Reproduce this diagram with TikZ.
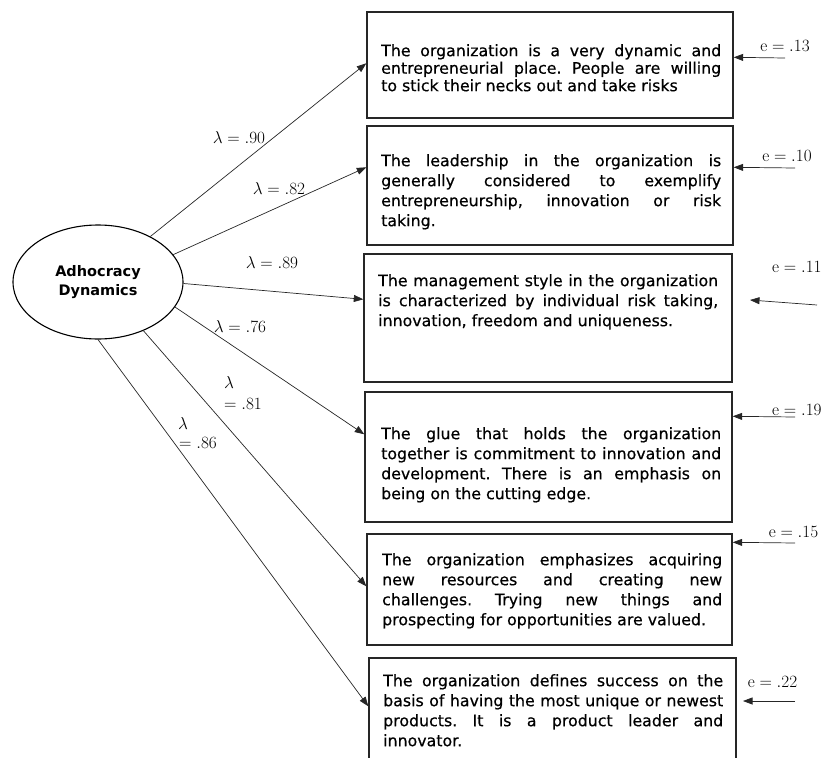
\RequirePackage{fix-cm}
\documentclass[tikz,border=0pt]{standalone}
\usepackage[no-math]{fontspec}
\setmainfont{DejaVu Sans}
\newfontfamily\boxfont{DejaVu Sans}[FakeBold=0.5]
\usetikzlibrary{arrows.meta,shapes.geometric,calc}
\begin{document}
\frenchspacing
\begin{tikzpicture}[x=1pt,y=-1pt,
  box/.style={draw=black!85,line width=1.4pt,rectangle,inner sep=0pt},
  btext/.style={anchor=north west,inner sep=0pt,text width=340pt,align=justify,font=\boxfont\fontsize{15.8}{20}\selectfont},
  load/.style={draw=black!85,line width=0.7pt,-{Triangle[length=9.5pt,width=7pt]}},
  lam/.style={inner sep=0pt,font=\fontsize{17.2}{20}\selectfont},
]
\clip (0,0) rectangle (828,758);
\node[ellipse,draw,line width=1.1pt,minimum width=170pt,minimum height=114pt,inner sep=0pt,
      font=\bfseries\fontsize{14.5}{19}\selectfont,align=center] (ell) at (98,282) {Adhocracy\\Dynamics};

\node[box,minimum width=366pt,minimum height=106pt] (b1) at (550,65) {};
\node[box,minimum width=366pt,minimum height=119pt] (b2) at (550,185.5) {};
\node[box,minimum width=368pt,minimum height=128pt] (b3) at (548,318) {};
\node[box,minimum width=367pt,minimum height=130pt] (b4) at (548.5,457) {};
\node[box,minimum width=365pt,minimum height=111pt] (b5) at (549.5,589.5) {};
\node[box,minimum width=367pt,minimum height=122pt] (b6) at (552.5,719) {};

\node[btext,font=\boxfont\fontsize{15.8}{17.5}\selectfont] (t1) at (381,44) {The organization is a very dynamic and\linebreak entrepreneurial place. People are willing\linebreak to stick their necks out and take risks};
\node[btext] (t2) at (381,154) {The leadership in the organization is\linebreak generally considered to exemplify\linebreak entrepreneurship, innovation or risk\linebreak taking.};
\node[btext] (t3) at (378,274) {The management style in the organization\linebreak is characterized by individual risk taking,\linebreak innovation, freedom and uniqueness.};
\node[btext] (t4) at (381,427) {The glue that holds the organization\linebreak together is commitment to innovation and\linebreak development. There is an emphasis on\linebreak being on the cutting edge.};
\node[btext] (t5) at (382,553) {The organization emphasizes acquiring\linebreak new resources and creating new\linebreak challenges. Trying new things and\linebreak prospecting for opportunities are valued.};
\node[btext] (t6) at (383,674) {The organization defines success on the\linebreak basis of having the most unique or newest\linebreak products. It is a product leader and\linebreak innovator.};

\draw[load] (ell.41) -- ($(b1.north west)+(0,52)$);
\draw[load] (ell.20) -- ($(b2.north west)+(0,42)$);
\draw[load] (ell.-1) -- ($(b3.north west)+(0,46)$);
\draw[load] (ell.-18) -- ($(b4.north west)+(0,43)$);
\draw[load] (ell.-47) -- ($(b5.north west)+(0,53)$);
\draw[load] (ell.-90) -- ($(b6.north west)+(0,49)$);

\node[lam] (l90) at (239,138) {$\lambda = .90$};
\node[lam] (l82) at (279,189) {$\lambda = .82$};
\node[lam] (l89) at (272,263) {$\lambda = .89$};
\node[lam] (l76) at (240,327) {$\lambda = .76$};
\node[lam,anchor=west] (l81a) at (224,383) {$\lambda$};
\node[lam,anchor=west] (l81b) at (224,404) {$={}.81$};
\node[lam,anchor=west] (l86a) at (178,424) {$\lambda$};
\node[lam,anchor=west] (l86b) at (179,443) {$={}.86$};

\node[lam] (e13) at (785,46) {$\mathrm{e} = .13$};
\coordinate (c13) at (785,58);
\draw[load] (c13) -- ($(b1.north east)+(0,46)$);

\node[lam] (e10) at (787,156) {$\mathrm{e} = .10$};
\coordinate (c10) at (795,168);
\draw[load] (c10) -- ($(b2.north east)+(0,42)$);

\node[lam,anchor=west] (e11) at (772,267) {$\mathrm{e} = .11$};
\coordinate (c11) at (817,305);
\coordinate (d11) at (750,300);
\draw[load] (c11) -- (d11);

\node[lam,anchor=west] (e19) at (772,410) {$\mathrm{e} = .19$};
\coordinate (c19) at (795,417);
\draw[load] (c19) -- ($(b4.north east)+(0,25)$);

\node[lam] (e15) at (793.5,532) {$\mathrm{e} = .15$};
\coordinate (c15) at (795,543);
\draw[load] (c15) -- ($(b5.north east)+(0,9)$);

\node[lam] (e22) at (772.5,682) {$\mathrm{e} = .22$};
\coordinate (c22) at (795,701);
\coordinate (d22) at (743,701);
\draw[load] (c22) -- (d22);
\end{tikzpicture}
\end{document}
